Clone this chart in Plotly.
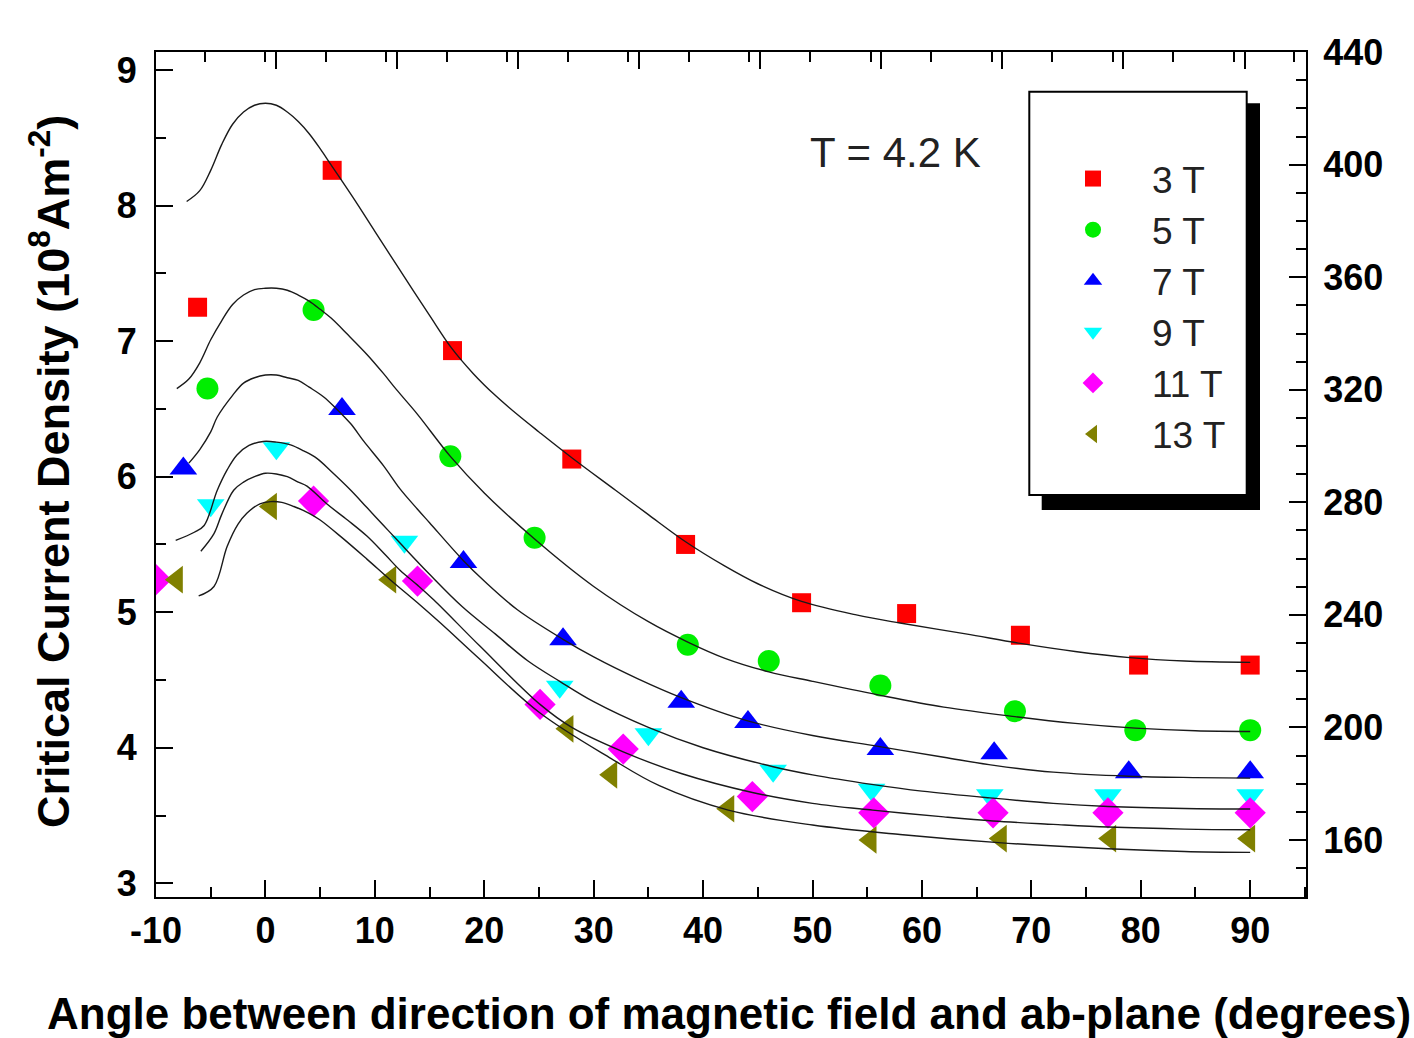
import plotly.graph_objects as go

# ---------------- data ----------------
FIELDS = ["3 T", "5 T", "7 T", "9 T", "11 T", "13 T"]

X_TICKS = [-10, 0, 10, 20, 30, 40, 50, 60, 70, 80, 90]
X_TICK_TEXT = ["-10", "0", "10", "20", "30", "40", "50", "60", "70", "80", "90"]

X_3T = [-6.2, 6.1, 17.1, 28.0, 38.4, 49.0, 58.6, 69.0, 79.8, 90.0]
Y_3T = [7.25, 8.26, 6.93, 6.13, 5.50, 5.07, 4.99, 4.83, 4.61, 4.61]
X_5T = [-5.3, 4.4, 16.9, 24.6, 38.6, 46.0, 56.2, 68.5, 79.5, 90.0]
Y_5T = [6.65, 7.23, 6.15, 5.55, 4.76, 4.64, 4.46, 4.27, 4.13, 4.13]
X_7T = [-7.5, 7.0, 18.1, 27.2, 38.0, 44.1, 56.2, 66.6, 78.9, 90.0]
Y_7T = [6.06, 6.50, 5.37, 4.80, 4.34, 4.19, 3.99, 3.96, 3.82, 3.82]
X_9T = [-5.0, 1.0, 12.7, 26.9, 35.0, 46.4, 55.4, 66.2, 77.0, 90.0]
Y_9T = [5.79, 6.21, 5.52, 4.45, 4.10, 3.83, 3.69, 3.65, 3.65, 3.65]
X_11T = [-10.0, 4.4, 13.9, 25.1, 32.7, 44.5, 55.6, 66.5, 77.0, 90.0]
Y_11T = [5.24, 5.82, 5.23, 4.32, 3.99, 3.64, 3.52, 3.52, 3.52, 3.52]
X_13T = [-8.1, 0.5, 11.4, 27.6, 31.6, 42.3, 55.3, 67.2, 77.2, 89.9]
Y_13T = [5.24, 5.78, 5.24, 4.14, 3.80, 3.55, 3.32, 3.33, 3.33, 3.33]

# fitted curves
FIT1_X = [-7.2, -6, -5, -4, -3, -2, -1, 0, 1, 2, 3, 4, 5, 6, 8, 10, 12, 15, 17, 19,
          21, 23, 25, 28, 32, 35, 38.4, 42, 45, 49, 54, 58, 64, 69, 74, 79, 84, 90]
FIT1_Y = [8.03, 8.11, 8.26, 8.45, 8.60, 8.69, 8.74, 8.755, 8.74, 8.69, 8.62, 8.53, 8.42, 8.30,
          8.06, 7.81, 7.56, 7.19, 6.95, 6.76, 6.60, 6.46, 6.33, 6.14, 5.90, 5.72, 5.52, 5.34,
          5.21, 5.08, 4.98, 4.92, 4.84, 4.77, 4.71, 4.665, 4.64, 4.63]
FIT2_X = [-8.1, -7, -6, -5, -4, -3, -2, -1, 0, 1, 2, 3, 4, 5, 6, 7.5, 9.3, 10.8, 12, 13.9,
          16.9, 20, 24.6, 30, 35, 38.6, 42, 46, 50, 56, 62, 68.5, 74, 79.5, 85, 90]
FIT2_Y = [6.65, 6.72, 6.84, 7.01, 7.15, 7.27, 7.34, 7.38, 7.39, 7.39, 7.375, 7.34, 7.295, 7.235,
          7.17, 7.05, 6.90, 6.76, 6.64, 6.46, 6.15, 5.88, 5.54, 5.19, 4.93, 4.78, 4.66, 4.56,
          4.49, 4.39, 4.30, 4.23, 4.18, 4.145, 4.125, 4.12]
FIT3_X = [-7.0, -6, -5, -4.4, -3, -2, -1, 0, 1, 2, 3, 4, 5.3, 6.5, 7.8, 9, 10.8, 12.3, 13.9,
          15, 18.1, 20, 23, 27.2, 30, 34, 38, 44, 50, 56, 62, 66.6, 72, 78.9, 85, 90]
FIT3_Y = [6.10, 6.20, 6.33, 6.44, 6.60, 6.69, 6.73, 6.75, 6.75, 6.73, 6.71, 6.66, 6.59, 6.50,
          6.39, 6.26, 6.08, 5.91, 5.76, 5.66, 5.38, 5.23, 5.02, 4.80, 4.67, 4.51, 4.37, 4.20,
          4.09, 4.01, 3.93, 3.87, 3.82, 3.79, 3.78, 3.776]
FIT4_X = [-8.2, -6.5, -5.6, -4.4, -3.5, -2.6, -1.5, -0.2, 1, 2.3, 3.5, 4.7, 6, 7.8, 9.3, 10.8,
          12.3, 15, 18, 21, 24, 26.9, 30, 35, 40, 46.4, 50, 55.4, 60, 66.2, 72, 77, 84, 90]
FIT4_Y = [5.53, 5.59, 5.64, 5.90, 6.05, 6.16, 6.23, 6.26, 6.255, 6.235, 6.19, 6.135, 6.04,
          5.90, 5.77, 5.64, 5.51, 5.28, 5.04, 4.84, 4.64, 4.49, 4.34, 4.15, 4.00, 3.86, 3.80,
          3.73, 3.68, 3.63, 3.59, 3.567, 3.552, 3.548]
FIT5_X = [-5.9, -4.7, -4, -2.9, -2, -1, 0, 1, 2, 3, 3.8, 5.6, 7.5, 9.3, 11, 12.3, 13.9, 15.4,
          19.6, 25.1, 28, 32.7, 38, 44.5, 50, 55.5, 62, 66.5, 72, 77, 84, 90]
FIT5_Y = [5.45, 5.58, 5.72, 5.90, 5.96, 6.00, 6.025, 6.02, 6.00, 5.96, 5.93, 5.80, 5.68, 5.56,
          5.42, 5.31, 5.20, 5.09, 4.75, 4.32, 4.15, 3.97, 3.81, 3.67, 3.59, 3.54, 3.49, 3.46,
          3.435, 3.415, 3.40, 3.395]
FIT6_X = [-6.1, -4.7, -3.5, -2.5, -1.7, -0.5, 0.5, 1.5, 2.6, 4, 5, 7, 9.3, 11.4, 13.9, 16,
          19.5, 25.1, 31.6, 36, 42.3, 50, 58, 67, 77, 84, 90]
FIT6_Y = [5.12, 5.19, 5.485, 5.65, 5.73, 5.80, 5.816, 5.81, 5.78, 5.73, 5.68, 5.55, 5.39,
          5.24, 5.07, 4.92, 4.66, 4.256, 3.92, 3.72, 3.54, 3.43, 3.36, 3.30, 3.255, 3.235, 3.228]

SERIES = [
    (FIELDS[0], X_3T, Y_3T, "square", "#ff0000", 19),
    (FIELDS[1], X_5T, Y_5T, "circle", "#00ee00", 22),
    (FIELDS[2], X_7T, Y_7T, "triangle-up", "#0000ff", 24),
    (FIELDS[3], X_9T, Y_9T, "triangle-down", "#00ffff", 24),
    (FIELDS[4], X_11T, Y_11T, "diamond", "#ff00ff", 24),
    (FIELDS[5], X_13T, Y_13T, "triangle-left", "#808000", 24),
]
FITS = [(FIT1_X, FIT1_Y), (FIT2_X, FIT2_Y), (FIT3_X, FIT3_Y),
        (FIT4_X, FIT4_Y), (FIT5_X, FIT5_Y), (FIT6_X, FIT6_Y)]

# ---------------- figure ----------------
W, H = 1414, 1038
L, R, T, B = 156, 108, 52, 141
PW, PH = W - L - R, H - T - B


def px_x(p):
    return (p - L) / PW


def px_y(p):
    return (H - B - p) / PH


fig = go.Figure()

for name, xs, ys, sym, col, sz in SERIES:
    fig.add_trace(go.Scatter(
        x=xs, y=ys, mode="markers", name=name, cliponaxis=True,
        marker=dict(symbol=sym, color=col, size=sz, line=dict(width=0)),
    ))

for fx, fy in FITS:
    fig.add_trace(go.Scatter(
        x=fx, y=fy, mode="lines", showlegend=False, hoverinfo="skip",
        line=dict(color="#1a1a1a", width=1.4, shape="spline", smoothing=1.0),
    ))

# dummy trace to activate secondary axes
fig.add_trace(go.Scatter(x=[None], y=[None], xaxis="x2", yaxis="y2",
                         showlegend=False, hoverinfo="skip"))

tick_font = dict(family="Liberation Sans, Arial, sans-serif", size=36, color="black", weight="bold")
axis_common = dict(showgrid=False, zeroline=False, showline=True, linecolor="black",
                   linewidth=2, ticks="inside", ticklen=17, tickwidth=2, tickcolor="black",
                   tickfont=tick_font)

fig.update_layout(
    width=W, height=H,
    margin=dict(l=L, r=R, t=T, b=B, pad=0),
    paper_bgcolor="white", plot_bgcolor="white",
    xaxis=dict(range=[-10, 95.1], tickmode="array", tickvals=X_TICKS, ticktext=X_TICK_TEXT,
               ticklabelstandoff=1,
               minor=dict(ticks="inside", ticklen=10, tickwidth=2, tickcolor="black",
                          tick0=-10, dtick=5),
               **axis_common),
    xaxis2=dict(range=[-10, 95.1], overlaying="x", side="top", anchor="y",
                tick0=1.0, dtick=11.06, showticklabels=False,
                minor=dict(ticks="inside", ticklen=10, tickwidth=2, tickcolor="black", dtick=5.53),
                **axis_common),
    yaxis=dict(range=[2.899, 9.133], tick0=3, dtick=1, ticklabelstandoff=10,
               minor=dict(ticks="inside", ticklen=10, tickwidth=2, tickcolor="black", dtick=0.5),
               **axis_common),
    yaxis2=dict(range=[139.73, 440.05], overlaying="y", side="right", anchor="x",
                tick0=160, dtick=40, ticklabelstandoff=8,
                minor=dict(ticks="inside", ticklen=10, tickwidth=2, tickcolor="black", dtick=10),
                **axis_common),
    showlegend=True,
    legend=dict(x=px_x(1034), y=px_y(148), xanchor="left", yanchor="top",
                bgcolor="rgba(0,0,0,0)", borderwidth=0, itemwidth=108,
                font=dict(family="Liberation Sans, Arial, sans-serif", size=37, color="#222222"),
                itemsizing="trace"),
)

# legend frame with drop shadow
fig.add_shape(type="rect", xref="paper", yref="paper",
              x0=px_x(1041.7), x1=px_x(1260), y0=px_y(510), y1=px_y(103.3),
              fillcolor="black", line=dict(width=0), layer="above")
fig.add_shape(type="rect", xref="paper", yref="paper",
              x0=px_x(1029.3), x1=px_x(1246.7), y0=px_y(495), y1=px_y(91.7),
              fillcolor="white", line=dict(color="black", width=2), layer="above")

fig.add_annotation(text="T = 4.2 K", xref="paper", yref="paper",
                   x=px_x(808), y=px_y(152.7), xanchor="left", yanchor="middle",
                   showarrow=False,
                   font=dict(family="Liberation Sans, Arial, sans-serif", size=42, color="#222222"))
fig.add_annotation(text="Angle between direction of magnetic field and ab-plane (degrees)",
                   xref="paper", yref="paper", x=px_x(729), y=px_y(1013),
                   xanchor="center", yanchor="middle", showarrow=False,
                   font=dict(family="Liberation Sans, Arial, sans-serif", size=44,
                             color="black", weight="bold"))
fig.add_annotation(text="Critical Current Density (10<sup>8</sup>Am<sup>-2</sup>)",
                   xref="paper", yref="paper", x=px_x(50), y=px_y(472),
                   xanchor="center", yanchor="middle", textangle=-90, showarrow=False,
                   font=dict(family="Liberation Sans, Arial, sans-serif", size=45,
                             color="black", weight="bold"))

fig.write_html("out.html", config={"displayModeBar": False},
               post_script="document.body.style.margin='0px';document.body.style.overflow='hidden';")
